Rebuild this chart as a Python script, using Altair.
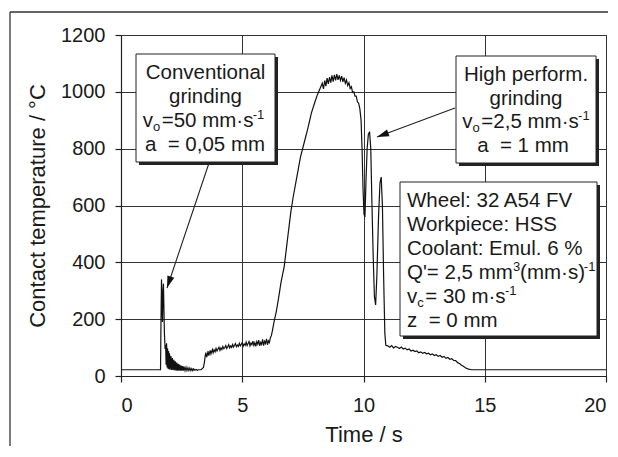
import altair as alt
import pandas as pd

# ---------------- data ----------------
time_s = [
    0.0, 1.63,
    1.65, 1.67, 1.69, 1.71, 1.73, 1.75, 1.77, 1.79, 1.82,
    1.84, 1.86, 1.88, 1.90, 1.92, 1.94, 1.96, 1.98, 2.00, 2.03, 2.06, 2.09, 2.12, 2.15,
    2.18, 2.21, 2.24, 2.27, 2.30, 2.33, 2.36, 2.39, 2.42, 2.45, 2.48, 2.51, 2.54, 2.57,
    2.60, 2.64, 2.68, 2.72, 2.76, 2.80, 2.84, 2.88, 2.92, 2.96, 3.00, 3.05, 3.10, 3.15,
    3.20, 3.30,
    3.40, 3.44, 3.47, 3.50, 3.53, 3.56, 3.59, 3.62, 3.65, 3.68, 3.71, 3.74, 3.77, 3.80,
    3.84, 3.88, 3.92, 3.96, 4.00, 4.04, 4.08, 4.12, 4.16, 4.20, 4.24, 4.28, 4.32, 4.36,
    4.40, 4.44, 4.48, 4.52, 4.56, 4.60, 4.64, 4.68, 4.72, 4.76, 4.80, 4.84, 4.88, 4.92,
    4.96, 5.00, 5.04, 5.08, 5.12, 5.16, 5.20, 5.24, 5.28, 5.32, 5.36, 5.40, 5.44, 5.48,
    5.52, 5.56, 5.60, 5.64, 5.68, 5.72, 5.76, 5.80, 5.84, 5.88, 5.92, 5.96, 6.00, 6.04,
    6.08, 6.12, 6.16, 6.20, 6.24,
    6.32, 6.40, 6.50, 6.60, 6.73, 6.85, 7.00, 7.10, 7.25, 7.40, 7.55, 7.70,
    7.85, 8.00, 8.10, 8.20,
    8.30, 8.35, 8.40, 8.45, 8.50, 8.55, 8.60, 8.65, 8.70, 8.75, 8.80, 8.85, 8.90, 8.95,
    9.00, 9.05, 9.10, 9.15, 9.20, 9.25, 9.30, 9.35, 9.40, 9.45, 9.50, 9.55, 9.60, 9.65,
    9.70, 9.75, 9.80, 9.85,
    9.90, 9.94, 9.98, 10.02, 10.06, 10.10, 10.15, 10.20, 10.25, 10.30, 10.35, 10.40,
    10.45, 10.50, 10.55, 10.62, 10.68, 10.73, 10.78, 10.83, 10.88, 10.92,
    11.00, 11.08, 11.16, 11.24, 11.32, 11.40, 11.48, 11.56, 11.64, 11.72, 11.80, 11.88,
    11.96, 12.04, 12.12, 12.20, 12.28, 12.36, 12.44, 12.52, 12.60, 12.68, 12.76, 12.84,
    12.92, 13.00, 13.08, 13.16, 13.24, 13.32, 13.40, 13.48, 13.56, 13.64, 13.72, 13.80,
    13.88, 13.96, 14.04, 14.12, 14.20, 14.30, 14.45, 20.0,
]
temp_c = [
    22, 22,
    200, 340, 260, 190, 300, 325, 240, 150, 95,
    110, 40, 115, 30, 98, 26, 88, 24, 80, 22, 70, 21, 63, 20,
    57, 20, 52, 19, 47, 19, 43, 19, 40, 19, 37, 19, 35, 19,
    33, 19, 31, 19, 29, 19, 28, 19, 26, 19, 25, 20, 23, 20,
    22, 22,
    30, 48, 70, 82, 66, 74, 88, 72, 80, 90, 78, 86, 93, 82,
    92, 85, 97, 88, 95, 101, 90, 99, 93, 104, 96, 100, 107, 97,
    103, 110, 99, 106, 101, 111, 102, 108, 114, 103, 109, 104, 115, 106,
    112, 118, 105, 113, 108, 119, 107, 114, 121, 106, 116, 110, 123, 108,
    117, 104, 121, 112, 126, 106, 118, 111, 129, 107, 122, 114, 131, 110,
    124, 118, 135, 142, 158,
    195, 225, 275, 330, 385, 470, 575, 630, 700, 770, 820, 870,
    925, 965, 990, 1010,
    1030, 1010, 1040, 1020, 1048, 1028, 1052, 1032, 1058, 1036, 1060, 1040, 1062, 1042,
    1058, 1040, 1055, 1035, 1050, 1030, 1042, 1022, 1032, 1012, 1018, 998, 1000, 985,
    985, 965, 960, 940,
    900, 800, 660, 570, 560, 680, 800, 850, 860, 800, 600, 420,
    280, 250, 350, 560, 680, 700, 600, 350, 150, 108,
    106, 101, 107, 99, 104, 101, 97, 102, 95, 98, 92, 95,
    88, 91, 86, 88, 82, 85, 80, 83, 78, 80, 75, 78,
    72, 75, 69, 72, 66, 69, 62, 65, 59, 61, 55, 54,
    47, 44, 38, 34, 29, 25, 22, 22,
]
x_ticks = [0, 5, 10, 15, 20]
y_ticks = [0, 200, 400, 600, 800, 1000, 1200]

# annotation texts: (text, kind) kind = n (normal), sub, sup, gap (pixels)
box1_lines = ["Conventional", "grinding"]
box1_v = [("v", "n"), ("o", "sub"), (1.5, "gap"), ("=50 mm·s", "n"), (0.5, "gap"), ("-1", "sup")]
box1_a = "a\u00a0\u00a0= 0,05 mm"
box2_lines = ["High perform.", "grinding"]
box2_v = [("v", "n"), ("o", "sub"), (1.5, "gap"), ("=2,5 mm·s", "n"), (0.5, "gap"), ("-1", "sup")]
box2_a = "a\u00a0\u00a0= 1 mm"
box3_lines = ["Wheel: 32 A54 FV", "Workpiece: HSS", "Coolant: Emul. 6 %"]
box3_q = [("Q'= 2,5 mm", "n"), ("3", "sup"), ("(mm·s)", "n"), ("-1", "sup")]
box3_v = [("v", "n"), ("c", "sub"), (1.5, "gap"), ("= 30 m·s", "n"), (0.5, "gap"), ("-1", "sup")]
box3_z = "z\u00a0\u00a0= 0 mm"

# ---------------- styling ----------------
FONT = "Liberation Sans"
INK = "#1a1a1a"
W, H = 485, 341
FS, FSUB, FSUP = 20.5, 13, 13

# Arial / Liberation Sans advance widths (1/1000 em) for layout of text pieces
AW = {" ": 278, "\u00a0": 278, "'": 191, "(": 333, ")": 333, ",": 278, "-": 333, ".": 278,
      "=": 584, "·": 278, "%": 889, ":": 278, "A": 667, "C": 722, "E": 667, "F": 611,
      "H": 722, "Q": 778, "S": 667, "V": 667, "W": 944, "a": 556, "c": 500, "d": 556,
      "e": 556, "g": 556, "h": 556, "i": 222, "k": 500, "l": 222, "m": 833, "n": 556,
      "o": 556, "p": 556, "r": 333, "s": 500, "t": 278, "u": 556, "v": 500, "z": 500}


def tw(s, size):
    return sum(AW.get(ch, 556) for ch in s) * size / 1000.0


df = pd.DataFrame({"t": time_s, "T": temp_c, "i": list(range(len(time_s)))})
one = pd.DataFrame({"k": [0]})

trace = alt.Chart(df).mark_line(color="#111111", strokeWidth=1.2).encode(
    x=alt.X("t:Q", scale=alt.Scale(domain=[0, 20], nice=False, zero=False),
            axis=alt.Axis(values=x_ticks, title="Time / s", labelPadding=13,
                          titlePadding=9, format="d")),
    y=alt.Y("T:Q", scale=alt.Scale(domain=[0, 1200], nice=False),
            axis=alt.Axis(values=y_ticks, title="Contact temperature / °C",
                          labelPadding=10, titlePadding=11, format="d")),
    order="i:Q",
)


def txt(s, x, y, size=FS, align="left"):
    return alt.Chart(one).mark_text(
        text=s, fontSize=size, align=align, baseline="alphabetic", font=FONT, color=INK
    ).encode(x=alt.value(x), y=alt.value(y))


def pieces(parts, x, y, center=False):
    sizes = {"n": FS, "sub": FSUB, "sup": FSUP}
    shifts = {"n": 0, "sub": 3.5, "sup": -8}
    total = 0.0
    for s, kind in parts:
        total += s if kind == "gap" else tw(s, sizes[kind])
    cx = x - total / 2.0 if center else x
    out = []
    for s, kind in parts:
        if kind == "gap":
            cx += s
            continue
        out.append(txt(s, cx, y + shifts[kind], size=sizes[kind]))
        cx += tw(s, sizes[kind])
    return out


def box(x1, y1, x2, y2):
    shadow = alt.Chart(one).mark_rect(color="#222222").encode(
        x=alt.value(x1 + 3), x2=alt.value(x2 + 3), y=alt.value(y1 + 3), y2=alt.value(y2 + 3))
    face = alt.Chart(one).mark_rect(fill="white", stroke="#222222", strokeWidth=1).encode(
        x=alt.value(x1), x2=alt.value(x2), y=alt.value(y1), y2=alt.value(y2))
    return [shadow, face]


def rule(x1, y1, x2, y2, w=1.1, c="#222222"):
    return alt.Chart(one).mark_rule(color=c, strokeWidth=w).encode(
        x=alt.value(x1), x2=alt.value(x2), y=alt.value(y1), y2=alt.value(y2))


def head(x, y, angle):
    return alt.Chart(one).mark_point(
        shape="M0,0 L0.6,2 L-0.6,2 Z", size=144, filled=True, color="#111111",
        opacity=1, angle=angle, strokeWidth=0
    ).encode(x=alt.value(x), y=alt.value(y))


layers = [trace]
# figure frame
layers += [rule(-111, -23, -111, 420, w=1.3, c="#333333"),
           rule(-111, -23, 500, -23, w=1.3, c="#333333")]
# arrows
layers += [rule(88, 128, 46, 253), head(46, 253, 198.6),
           rule(334, 73, 256, 102), head(256, 102, 249.6)]
# box 1
layers += box(15, 19, 154, 127)
layers += [txt(box1_lines[0], 84.5, 44, align="center"),
           txt(box1_lines[1], 84.5, 68, align="center")]
layers += pieces(box1_v, 82.5, 92, center=True)
layers += [txt(box1_a, 84, 116, align="center")]
# box 2
layers += box(335, 21, 475, 128)
layers += [txt(box2_lines[0], 405, 46, align="center"),
           txt(box2_lines[1], 405, 70, align="center")]
layers += pieces(box2_v, 405, 93, center=True)
layers += [txt(box2_a, 402, 117, align="center")]
# box 3
layers += box(279, 147, 476, 301)
layers += [txt(box3_lines[0], 286, 172), txt(box3_lines[1], 286, 196),
           txt(box3_lines[2], 286, 220)]
layers += pieces(box3_q, 286, 244)
layers += pieces(box3_v, 286, 268)
layers += [txt(box3_z, 286, 292)]

chart = alt.layer(*layers).properties(
    width=W, height=H,
    autosize=alt.AutoSizeParams(type="none"),
    padding={"left": 113, "top": 27, "right": 2, "bottom": 70},
).configure_axis(
    grid=True, gridColor="#333333", gridWidth=1, gridOpacity=1,
    domainColor="#222222", domainWidth=1.2, tickColor="#222222", tickSize=6, tickWidth=1.2,
    labelFont=FONT, labelFontSize=20, labelColor=INK,
    titleFont=FONT, titleFontSize=22, titleFontWeight="normal", titleColor=INK,
).configure_view(stroke="#333333", strokeWidth=1)

chart.save("out.html", embed_options={"renderer": "svg", "actions": False})
